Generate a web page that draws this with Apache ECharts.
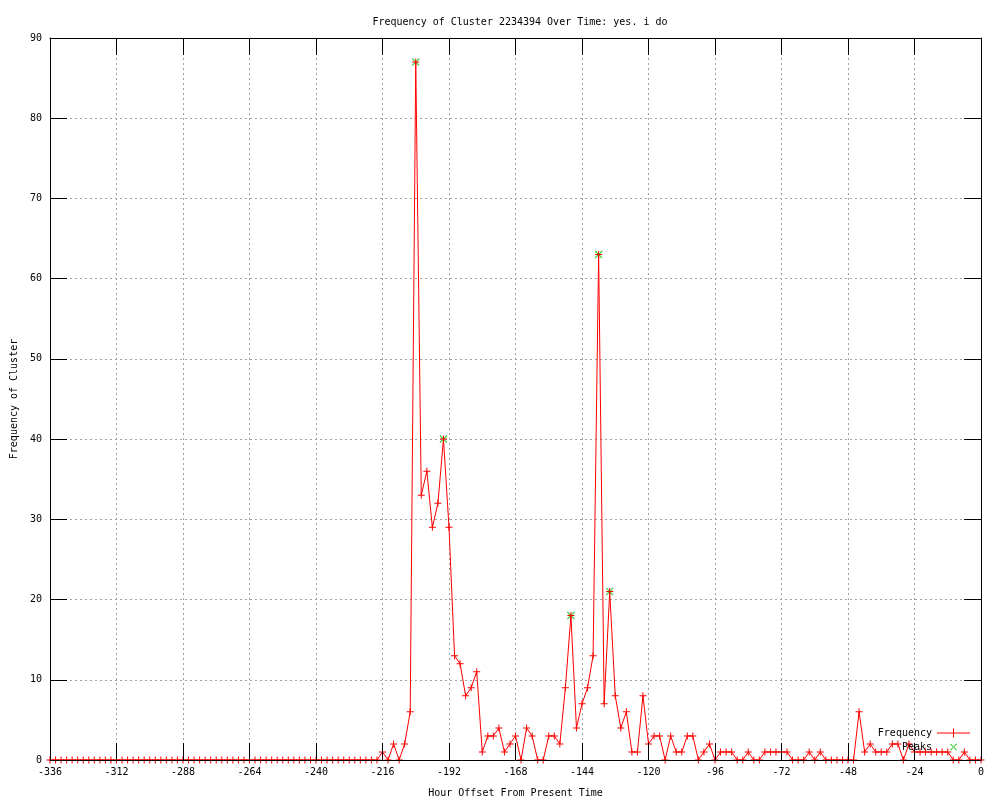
<!DOCTYPE html>
<html>
<head>
<meta charset="utf-8">
<script src="https://cdn.jsdelivr.net/npm/echarts@6/dist/echarts.min.js"></script>
<style>
  html, body { margin: 0; padding: 0; background: #fff; }
</style>
</head>
<body>
<div id="main" style="width: 1000px;height:800px;"></div>
<script>
// hour offsets, one point every 2 hours
var hours = [
  -336, -334, -332, -330, -328, -326, -324, -322, -320, -318,
  -316, -314, -312, -310, -308, -306, -304, -302, -300, -298,
  -296, -294, -292, -290, -288, -286, -284, -282, -280, -278,
  -276, -274, -272, -270, -268, -266, -264, -262, -260, -258,
  -256, -254, -252, -250, -248, -246, -244, -242, -240, -238,
  -236, -234, -232, -230, -228, -226, -224, -222, -220, -218,
  -216, -214, -212, -210, -208, -206, -204, -202, -200, -198,
  -196, -194, -192, -190, -188, -186, -184, -182, -180, -178,
  -176, -174, -172, -170, -168, -166, -164, -162, -160, -158,
  -156, -154, -152, -150, -148, -146, -144, -142, -140, -138,
  -136, -134, -132, -130, -128, -126, -124, -122, -120, -118,
  -116, -114, -112, -110, -108, -106, -104, -102, -100, -98,
  -96, -94, -92, -90, -88, -86, -84, -82, -80, -78,
  -76, -74, -72, -70, -68, -66, -64, -62, -60, -58,
  -56, -54, -52, -50, -48, -46, -44, -42, -40, -38,
  -36, -34, -32, -30, -28, -26, -24, -22, -20, -18,
  -16, -14, -12, -10, -8, -6, -4, -2, 0
]
var frequency = [
  0, 0, 0, 0, 0, 0, 0, 0, 0, 0,
  0, 0, 0, 0, 0, 0, 0, 0, 0, 0,
  0, 0, 0, 0, 0, 0, 0, 0, 0, 0,
  0, 0, 0, 0, 0, 0, 0, 0, 0, 0,
  0, 0, 0, 0, 0, 0, 0, 0, 0, 0,
  0, 0, 0, 0, 0, 0, 0, 0, 0, 0,
  1, 0, 2, 0, 2, 6, 87, 33, 36, 29,
  32, 40, 29, 13, 12, 8, 9, 11, 1, 3,
  3, 4, 1, 2, 3, 0, 4, 3, 0, 0,
  3, 3, 2, 9, 18, 4, 7, 9, 13, 63,
  7, 21, 8, 4, 6, 1, 1, 8, 2, 3,
  3, 0, 3, 1, 1, 3, 3, 0, 1, 2,
  0, 1, 1, 1, 0, 0, 1, 0, 0, 1,
  1, 1, 1, 1, 0, 0, 0, 1, 0, 1,
  0, 0, 0, 0, 0, 0, 6, 1, 2, 1,
  1, 1, 2, 2, 0, 2, 1, 1, 1, 1,
  1, 1, 1, 0, 0, 1, 0, 0, 0
]
var peakHours = [-204, -194, -148, -138, -134]
var peakValues = [87, 40, 18, 63, 21]

var FONT = 'DejaVu Sans Mono'
var PLUS = 'path://M0,3H7V4H0Z M3,0H4V7H3Z'
var CROSS = 'path://M0,0.7L0.7,0L7,6.3L6.3,7Z M7,0.7L6.3,0L0,6.3L0.7,7Z'

var myChart = echarts.init(document.getElementById('main'))

var freqData = hours.map(function (h, i) {
  return [h, frequency[i]]
})
var peakData = peakHours.map(function (h, i) {
  return [h, peakValues[i]]
})

var tickStyle = { inside: true, length: 17, lineStyle: { color: '#000', width: 1 } }
var gridLine = { show: true, lineStyle: { color: '#a0a0a0', type: [2, 3], width: 1 } }

var option = {
  animation: false,
  backgroundColor: '#fff',
  title: {
    text: 'Frequency of Cluster 2234394 Over Time: yes. i do',
    left: 515,
    textAlign: 'center',
    top: 12,
    textStyle: { fontFamily: FONT, fontSize: 10, fontWeight: 'normal', color: '#000' }
  },
  legend: {
    orient: 'vertical',
    align: 'right',
    right: 30,
    bottom: 48,
    padding: 0,
    itemGap: 4,
    itemWidth: 33,
    itemHeight: 9,
    textStyle: { fontFamily: FONT, fontSize: 10, color: '#000' },
    itemStyle: { borderWidth: 0 },
    data: [
      { name: 'Frequency', icon: 'path://M0,4H33V5H0Z M16,0H17V9H16Z' },
      { name: 'Peaks', icon: 'path://M0,0L0.05,0L0,0.05Z M33,9L32.95,9L33,8.95Z M13,1.7L13.7,1L20,7.3L19.3,8Z M20,1.7L19.3,1L13,7.3L13.7,8Z' }
    ]
  },
  grid: {
    left: 50,
    right: 19,
    top: 38,
    bottom: 40,
    outerBoundsMode: 'none',
    containLabel: false,
    show: false
  },
  xAxis: [{
    type: 'value',
    position: 'bottom',
    min: -336,
    max: 0,
    interval: 24,
    z: 3,
    name: 'Hour Offset From Present Time',
    nameLocation: 'middle',
    nameGap: 28,
    nameTextStyle: { fontFamily: FONT, fontSize: 10, color: '#000' },
    axisLine: { show: true, onZero: false, lineStyle: { color: '#000', width: 1 } },
    axisTick: tickStyle,
    axisLabel: { fontFamily: FONT, fontSize: 10, color: '#000', margin: 7 },
    splitLine: { show: false }
  }, {
    type: 'value',
    position: 'top',
    min: -336,
    max: 0,
    interval: 24,
    axisLine: { show: true, onZero: false, lineStyle: { color: '#000', width: 1 } },
    axisTick: tickStyle,
    axisLabel: { show: false },
    splitLine: gridLine
  }],
  yAxis: [{
    type: 'value',
    position: 'left',
    min: 0,
    max: 90,
    interval: 10,
    z: 3,
    name: 'Frequency of Cluster',
    nameLocation: 'middle',
    nameRotate: 90,
    nameGap: 31,
    nameTextStyle: { fontFamily: FONT, fontSize: 10, color: '#000' },
    axisLine: { show: true, onZero: false, lineStyle: { color: '#000', width: 1 } },
    axisTick: tickStyle,
    axisLabel: { fontFamily: FONT, fontSize: 10, color: '#000', margin: 8 },
    splitLine: { show: false }
  }, {
    type: 'value',
    position: 'right',
    min: 0,
    max: 90,
    interval: 10,
    axisLine: { show: true, onZero: false, lineStyle: { color: '#000', width: 1 } },
    axisTick: tickStyle,
    axisLabel: { show: false },
    splitLine: gridLine
  }],
  series: [
    {
      name: 'Peaks',
      type: 'scatter',
      data: peakData,
      symbol: CROSS,
      symbolSize: 8,
      itemStyle: { color: '#00c000', borderWidth: 0 },
      z: 2
    },
    {
      name: 'Frequency',
      type: 'line',
      data: freqData,
      showSymbol: true,
      showAllSymbol: true,
      symbol: PLUS,
      symbolSize: 7,
      clip: false,
      lineStyle: { color: '#ff0000', width: 1 },
      itemStyle: { color: '#ff0000', borderWidth: 0 },
      z: 2
    }
  ]
}
myChart.setOption(option)
</script>
</body>
</html>
